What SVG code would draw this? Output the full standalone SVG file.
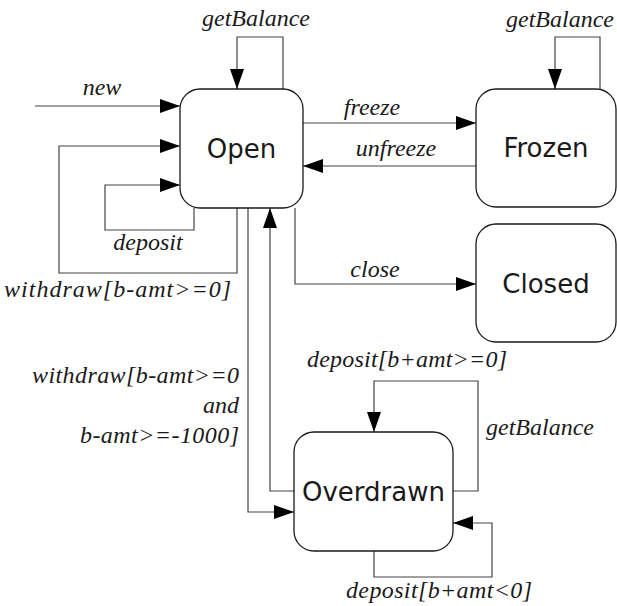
<svg xmlns="http://www.w3.org/2000/svg" width="617" height="606" viewBox="0 0 617 606">
  <style>
    .state { fill: #ffffff; stroke: #1a1a1a; stroke-width: 1.3; }
    .name { font-family: "DejaVu Sans", sans-serif; font-size: 26px; fill: #1a1a1a; text-anchor: middle; }
    .edge { fill: none; stroke: #444444; stroke-width: 1.2; }
    .lbl { font-family: "Liberation Serif", "Times New Roman", serif; font-style: italic; font-size: 24px; fill: #1a1a1a; }
  </style>
  <defs>
    <marker id="arrow" markerUnits="userSpaceOnUse" markerWidth="21" markerHeight="15" refX="20" refY="7" orient="auto">
      <path d="M0,0 L20,7 L0,14 z" fill="#000000"/>
    </marker>
  </defs>
  <rect width="617" height="606" fill="#ffffff"/>

  <g id="connectors">
    <!-- initial transition -->
    <path class="edge" d="M35,106 H180" marker-end="url(#arrow)"/>
    <!-- Open self loops -->
    <path class="edge" d="M283,89 V37 H237 V89" marker-end="url(#arrow)"/>
    <path class="edge" d="M237,208 V273 H59 V146 H180" marker-end="url(#arrow)"/>
    <path class="edge" d="M194,208 V230 H105 V185 H180" marker-end="url(#arrow)"/>
    <!-- Open <-> Frozen -->
    <path class="edge" d="M303,123 H476" marker-end="url(#arrow)"/>
    <path class="edge" d="M476,166 H303" marker-end="url(#arrow)"/>
    <!-- Frozen self loop -->
    <path class="edge" d="M600,89 V37 H555 V89" marker-end="url(#arrow)"/>
    <!-- Open -> Closed -->
    <path class="edge" d="M295,208 V284 H476" marker-end="url(#arrow)"/>
    <!-- Open <-> Overdrawn -->
    <path class="edge" d="M248,208 V512 H294" marker-end="url(#arrow)"/>
    <path class="edge" d="M294,491 H270 V208" marker-end="url(#arrow)"/>
    <!-- Overdrawn self loops -->
    <path class="edge" d="M453,491 H478 V381 H374 V432" marker-end="url(#arrow)"/>
    <path class="edge" d="M374,551 V577 H492 V523 H453" marker-end="url(#arrow)"/>
  </g>

  <g id="labels">
    <text class="lbl" x="256" y="26" text-anchor="middle">getBalance</text>
    <text class="lbl" x="102" y="95" text-anchor="middle">new</text>
    <text class="lbl" x="372" y="115" text-anchor="middle">freeze</text>
    <text class="lbl" x="396" y="156" text-anchor="middle">unfreeze</text>
    <text class="lbl" x="560" y="27" text-anchor="middle">getBalance</text>
    <text class="lbl" x="148" y="250" text-anchor="middle">deposit</text>
    <text class="lbl" x="4" y="297" textLength="227" lengthAdjust="spacing">withdraw[b-amt&gt;=0]</text>
    <text class="lbl" x="375" y="277" text-anchor="middle">close</text>
    <text class="lbl" x="32" y="383" textLength="207" lengthAdjust="spacing">withdraw[b-amt&gt;=0</text>
    <text class="lbl" x="239" y="413" text-anchor="end">and</text>
    <text class="lbl" x="80" y="443" textLength="159" lengthAdjust="spacing">b-amt&gt;=-1000]</text>
    <text class="lbl" x="307" y="367" textLength="200" lengthAdjust="spacing">deposit[b+amt&gt;=0]</text>
    <text class="lbl" x="540" y="435" text-anchor="middle">getBalance</text>
    <text class="lbl" x="346" y="598" textLength="186" lengthAdjust="spacing">deposit[b+amt&lt;0]</text>
  </g>

  <g id="open">
    <rect class="state" x="180" y="89" width="123" height="119" rx="20" ry="20"/>
    <text class="name" x="241.5" y="158">Open</text>
  </g>
  <g id="frozen">
    <rect class="state" x="476" y="89" width="140" height="118" rx="20" ry="20"/>
    <text class="name" x="546" y="157">Frozen</text>
  </g>
  <g id="closed">
    <rect class="state" x="476" y="224" width="140" height="118" rx="20" ry="20"/>
    <text class="name" x="546" y="293">Closed</text>
  </g>
  <g id="overdrawn">
    <rect class="state" x="294" y="432" width="159" height="119" rx="20" ry="20"/>
    <text class="name" x="373.5" y="501">Overdrawn</text>
  </g>
</svg>
